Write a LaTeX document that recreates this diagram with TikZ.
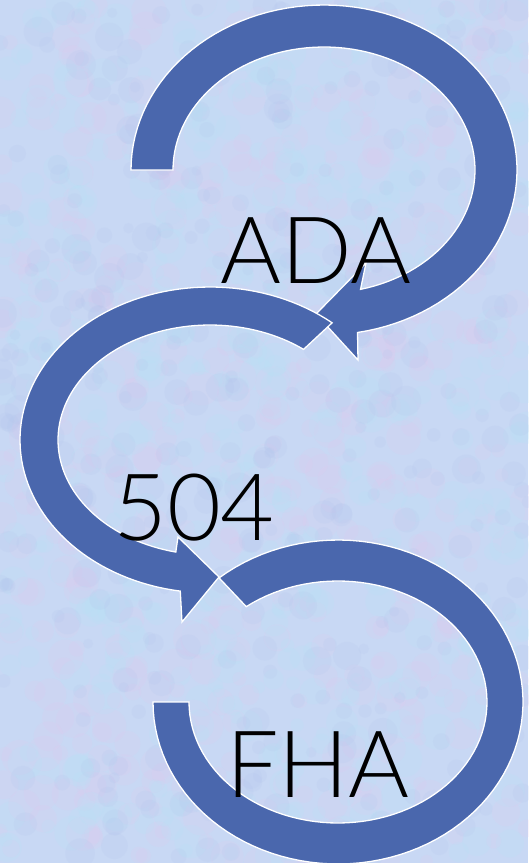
\documentclass[tikz,border=0pt]{standalone}
\usepackage{fontspec}
\setmainfont{Lato Light}
\begin{document}
\begin{tikzpicture}[x=1pt,y=-1pt]
\definecolor{bgbase}{RGB}{200,216,244}
\definecolor{blobpink}{RGB}{226,200,238}
\definecolor{blobcyan}{RGB}{182,228,248}
\definecolor{blobblue}{RGB}{176,194,236}
\definecolor{arrowblue}{RGB}{74,103,173}
\tikzset{
  arcshape/.style={fill=arrowblue,draw=white,line width=1.3pt,line join=miter},
  label/.style={font=\fontsize{93}{100}\selectfont,text=black,inner sep=0pt,anchor=base}
}
\useasboundingbox (0,0) rectangle (528,863);
\fill[bgbase] (0,0) rectangle (528,863);
\pgfmathsetseed{7}
\foreach \i in {1,...,500}{
  \pgfmathsetmacro\bx{rnd*528}\pgfmathsetmacro\by{rnd*863}\pgfmathsetmacro\br{6+rnd*12}
  \fill[blobpink,opacity=.18] (\bx,\by) circle[radius=\br];
}
\foreach \i in {1,...,500}{
  \pgfmathsetmacro\bx{rnd*528}\pgfmathsetmacro\by{rnd*863}\pgfmathsetmacro\br{6+rnd*12}
  \fill[blobcyan,opacity=.18] (\bx,\by) circle[radius=\br];
}
\foreach \i in {1,...,400}{
  \pgfmathsetmacro\bx{rnd*528}\pgfmathsetmacro\by{rnd*863}\pgfmathsetmacro\br{5+rnd*10}
  \fill[blobblue,opacity=.15] (\bx,\by) circle[radius=\br];
}
% arrow 1 (top)
\filldraw[arcshape]
  plot[domain=180:440,samples=90,variable=\t] ({324+193*cos(\t)},{170+165*sin(\t)})
  -- (358,360) -- (316,314) -- (366,263)
  -- plot[domain=436:180,samples=90,variable=\t] ({324+151*cos(\t)},{170+123*sin(\t)})
  -- cycle;
% arrow 2 (middle)
\filldraw[arcshape]
  plot[domain=-50:-261,samples=90,variable=\t] ({210+190*cos(\t)},{440+153*sin(\t)})
  -- (182,622) -- (219,577) -- (178,537)
  -- plot[domain=-257:-52,samples=90,variable=\t] ({210+152*cos(\t)},{440+115*sin(\t)})
  -- cycle;
% arrow 3 (bottom)
\filldraw[arcshape]
  plot[domain=230:540,samples=100,variable=\t] ({338+185*cos(\t)},{702+162*sin(\t)})
  -- plot[domain=540:232,samples=100,variable=\t] ({338+149*cos(\t)},{702+121*sin(\t)})
  -- cycle;
\node[label] (ada) at (316,283) {ADA};
\node[label] (n504) at (194,540) {504};
\node[label] (fha) at (318,797) {FHA};
\end{tikzpicture}
\end{document}
